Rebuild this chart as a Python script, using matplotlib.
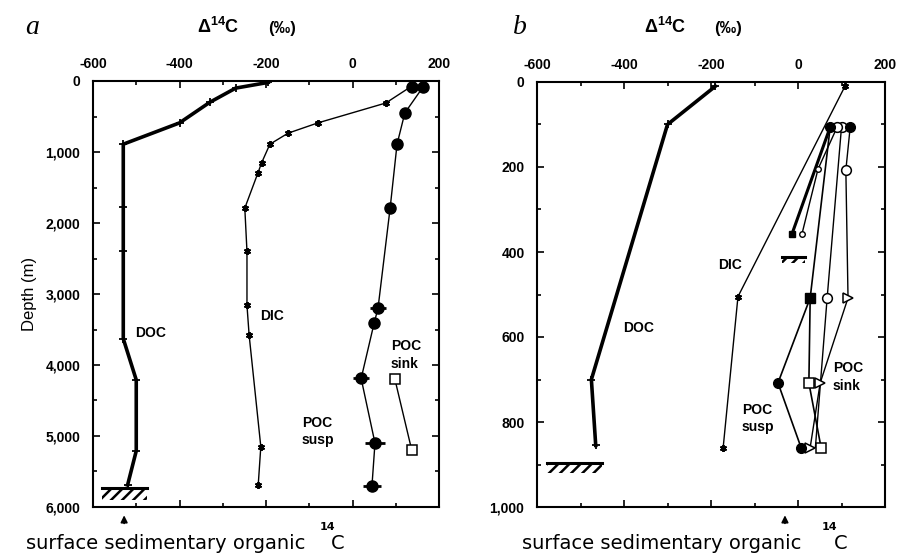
import matplotlib
matplotlib.use('Agg')
import matplotlib.pyplot as plt
from matplotlib.patches import Rectangle
from matplotlib.ticker import MultipleLocator, FixedLocator

plt.rcParams['font.family'] = ['Liberation Sans', 'DejaVu Sans']
plt.rcParams['mathtext.fontset'] = 'custom'
plt.rcParams['mathtext.rm'] = 'Liberation Sans'
plt.rcParams['mathtext.bf'] = 'Liberation Sans:bold'
plt.rcParams['axes.unicode_minus'] = False
plt.rcParams['hatch.linewidth'] = 1.8

W, H = 917, 557

# ---- panel a (depth 0-6000 m) ----
doc_a_x = [-195, -270, -330, -400, -530, -530, -530, -530, -500, -500, -520]
doc_a_depth = [20, 100, 300, 590, 890, 1770, 2400, 3630, 4210, 5210, 5690]
dic_a_x = [135, 77, -80, -149, -191, -210, -219, -249, -244, -244, -239, -212, -218]
dic_a_depth = [80, 310, 590, 735, 890, 1150, 1300, 1790, 2400, 3160, 3580, 5150, 5690]
susp_a_x = [163, 121, 103, 87, 59, 50, 20, 52, 45]
susp_a_depth = [85, 450, 890, 1790, 3200, 3410, 4190, 5100, 5700]
susp_a_err = [0, 0, 0, 12, 18, 12, 18, 24, 20]
susp_a_surf_x = [138]
susp_a_surf_depth = [85]
sink_a_x = [98, 137]
sink_a_depth = [4200, 5200]
floor_a_x = [-580, -475]
floor_a_depth = [5730, 5900]
sed_a_x = -528

# ---- panel b (depth 0-1000 m) ----
doc_b_x = [-190, -300, -475, -465]
doc_b_depth = [10, 100, 700, 855]
dic_b_x = [108, -138, -172]
dic_b_depth = [10, 505, 860]
# filled markers (suspended POC)
susp_b_x = [74, 28, -46, 7]
susp_b_depth = [106, 508, 708, 860]
thick_b_x = [74, -14]
thick_b_depth = [106, 358]
small_b_x = [90, 46, 9]
small_b_depth = [106, 205, 358]
ocirc_b_x = [100, 67, 40]
ocirc_b_depth = [106, 508, 860]
sqr_b_x = [28, 25, 53]
sqr_b_depth = [508, 708, 860]
tri_b_x = [120, 110, 115, 51, 28]
tri_b_depth = [106, 207, 508, 708, 860]
floor_b_x = [-577, -451]
floor_b_depth = [896, 920]
floor2_b_x = [-37, 16]
floor2_b_depth = [412, 426]
sed_b_x = -30

x_ticks = [-600, -400, -200, 0, 200]
depth_ticks_a = [0, 1000, 2000, 3000, 4000, 5000, 6000]
depth_labels_a = ['0', '1,000', '2,000', '3,000', '4,000', '5,000', '6,000']
depth_ticks_b = [0, 200, 400, 600, 800, 1000]
depth_labels_b = ['0', '200', '400', '600', '800', '1,000']

fig = plt.figure(figsize=(W / 100, H / 100), dpi=100)
ax_a = fig.add_axes([93 / W, 50 / H, 346 / W, 426 / H])
ax_b = fig.add_axes([537 / W, 50 / H, 348 / W, 425 / H])


def style_axes(ax, dticks, dlabels, dmax, dminor):
    ax.set_xlim(-600, 200)
    ax.set_ylim(dmax, 0)
    ax.xaxis.set_major_locator(FixedLocator(x_ticks))
    ax.xaxis.set_minor_locator(MultipleLocator(100))
    ax.set_yticks(dticks)
    ax.set_yticklabels(dlabels)
    ax.yaxis.set_minor_locator(MultipleLocator(dminor))
    ax.tick_params(which='both', direction='in', top=True, bottom=True,
                   left=True, right=True, labeltop=True, labelbottom=False,
                   width=1.2)
    ax.tick_params(which='major', length=5)
    ax.tick_params(which='minor', length=3)
    ax.tick_params(axis='x', pad=7)
    ax.tick_params(axis='y', pad=9)
    for lab in ax.get_xticklabels() + ax.get_yticklabels():
        lab.set_fontweight('bold')
        lab.set_fontsize(10)
    for s in ax.spines.values():
        s.set_linewidth(1.5)


style_axes(ax_a, depth_ticks_a, depth_labels_a, 6000, 500)
style_axes(ax_b, depth_ticks_b, depth_labels_b, 1000, 100)

# panel a curves
ax_a.plot(doc_a_x, doc_a_depth, color='black', lw=2.6, marker='+', ms=6, mew=1.3)
ax_a.plot(dic_a_x, dic_a_depth, color='black', lw=1.0, marker=(6, 2, 0), ms=5, mew=1.4)
ax_a.errorbar(susp_a_x, susp_a_depth, xerr=susp_a_err, color='black', lw=1.0,
              marker='o', ms=8, elinewidth=2.0, capsize=0)
ax_a.plot(susp_a_surf_x, susp_a_surf_depth, 'o', color='black', ms=8)
ax_a.plot(sink_a_x, sink_a_depth, color='black', lw=1.0, marker='s', ms=7,
          mfc='white', mec='black', mew=1.1)

# panel b curves
ax_b.plot(doc_b_x, doc_b_depth, color='black', lw=2.6, marker='+', ms=6, mew=1.3)
ax_b.plot(dic_b_x, dic_b_depth, color='black', lw=1.0, marker=(6, 2, 0), ms=5, mew=1.4)
ax_b.plot(thick_b_x, thick_b_depth, color='black', lw=2.2)
ax_b.plot(thick_b_x[1:], thick_b_depth[1:], 's', color='black', ms=5)
ax_b.plot(small_b_x, small_b_depth, color='black', lw=1.0)
ax_b.plot(small_b_x[1:], small_b_depth[1:], 'o', mfc='white', mec='black', ms=4, mew=1.0)
ax_b.plot(ocirc_b_x, ocirc_b_depth, color='black', lw=1.0)
ax_b.plot(tri_b_x, tri_b_depth, color='black', lw=1.0)
ax_b.plot(sqr_b_x, sqr_b_depth, color='black', lw=1.2)
ax_b.plot(susp_b_x, susp_b_depth, color='black', lw=1.2)
ax_b.plot(ocirc_b_x[:2], ocirc_b_depth[:2], 'o', mfc='white', mec='black', ms=7, mew=1.1)
ax_b.plot(small_b_x[:1], small_b_depth[:1], 'o', mfc='white', mec='black', ms=7, mew=1.1)
ax_b.plot(tri_b_x[1:2], tri_b_depth[1:2], 'o', mfc='white', mec='black', ms=7, mew=1.1)
ax_b.plot(tri_b_x[2:], tri_b_depth[2:], '>', mfc='white', mec='black', ms=7, mew=1.1)
ax_b.plot(sqr_b_x[1:], sqr_b_depth[1:], 's', mfc='white', mec='black', ms=7, mew=1.1)
ax_b.plot(sqr_b_x[:1], sqr_b_depth[:1], 's', color='black', ms=7)
ax_b.plot([susp_b_x[i] for i in (0, 2, 3)], [susp_b_depth[i] for i in (0, 2, 3)],
          'o', color='black', ms=7)
ax_b.plot(tri_b_x[:1], tri_b_depth[:1], 'o', color='black', ms=7)


def seafloor(ax, xs, ds):
    ax.plot(xs, [ds[0], ds[0]], color='black', lw=2.2)
    ax.add_patch(Rectangle((xs[0], ds[0]), xs[1] - xs[0], ds[1] - ds[0],
                           fill=False, hatch='///', lw=0, edgecolor='black'))


seafloor(ax_a, floor_a_x, floor_a_depth)
seafloor(ax_b, floor_b_x, floor_b_depth)
seafloor(ax_b, floor2_b_x, floor2_b_depth)

# text labels
lab = dict(fontsize=10, fontweight='bold', ha='left', va='center')
ax_a.text(-503, 3550, 'DOC', **lab)
ax_a.text(-214, 3310, 'DIC', **lab)
ax_a.text(-117, 4940, 'POC\nsusp', linespacing=1.3, **lab)
ax_a.text(89, 3860, 'POC\nsink', linespacing=1.3, **lab)
ax_b.text(-402, 580, 'DOC', **lab)
ax_b.text(-184, 430, 'DIC', **lab)
ax_b.text(-129, 791, 'POC\nsusp', linespacing=1.3, **lab)
ax_b.text(80, 694, 'POC\nsink', linespacing=1.3, **lab)

ax_a.set_ylabel('Depth (m)', fontsize=12, labelpad=6)

# arrows to surface sediment value
for ax, sx in ((ax_a, sed_a_x), (ax_b, sed_b_x)):
    ax.annotate('', xy=(sx, -0.013), xytext=(sx, -0.045),
                xycoords=ax.get_xaxis_transform(),
                textcoords=ax.get_xaxis_transform(),
                arrowprops=dict(arrowstyle='-|>', color='black', lw=1.2,
                                mutation_scale=10),
                annotation_clip=False)


def ftext(px, py, s, **kw):
    fig.text(px / W, 1 - py / H, s, **kw)


# panel letters and titles
ftext(25, 28, 'a', fontsize=20, family='Liberation Serif', style='italic', va='center')
ftext(513, 28, 'b', fontsize=20, family='Liberation Serif', style='italic', va='center')
ftext(197, 33, r'$\mathbf{\Delta}^{\mathbf{14}}$C', fontsize=13, fontweight='bold', va='baseline')
ftext(268, 33, '(‰)', fontsize=12, fontweight='bold', va='baseline')
ftext(644, 33, r'$\mathbf{\Delta}^{\mathbf{14}}$C', fontsize=13, fontweight='bold', va='baseline')
ftext(714, 33, '(‰)', fontsize=12, fontweight='bold', va='baseline')

bot = dict(fontsize=14, family='DejaVu Sans', va='baseline')
sup = dict(fontsize=8, family='DejaVu Sans', fontweight='bold', va='baseline')
ftext(26, 549, 'surface sedimentary organic', **bot)
ftext(320, 530, '14', **sup)
ftext(331, 549, 'C', **bot)
ftext(522, 549, 'surface sedimentary organic', **bot)
ftext(822, 530, '14', **sup)
ftext(834, 549, 'C', **bot)

fig.savefig('out.png', dpi=100)
